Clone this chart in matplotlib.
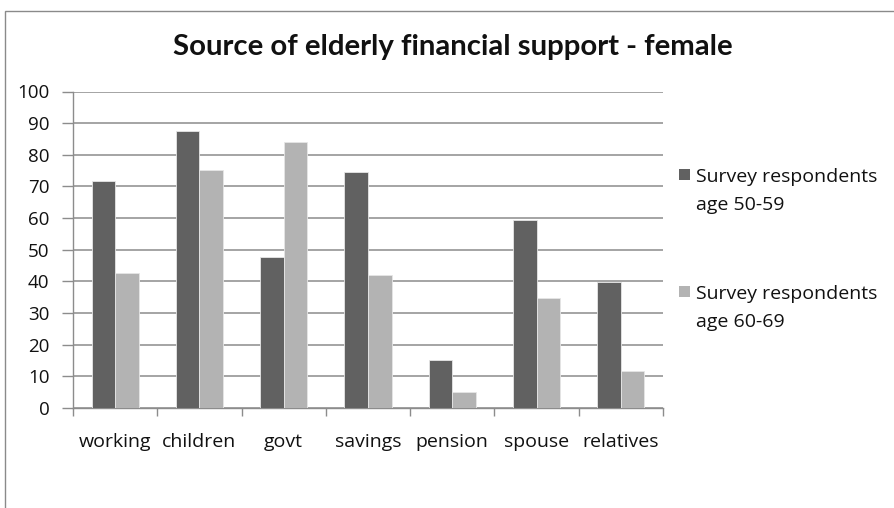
import matplotlib
matplotlib.use("Agg")
import matplotlib.pyplot as plt
from matplotlib.patches import Rectangle
import numpy as np

categories = ["working", "children", "govt", "savings", "pension", "spouse", "relatives"]
age_50_59 = [71.7, 87.4, 47.8, 74.5, 15.3, 59.3, 39.9]
age_60_69 = [42.6, 75.3, 83.9, 41.9, 5.2, 34.7, 11.6]
series_labels = ["Survey respondents\nage 50-59", "Survey respondents\nage 60-69"]
series_colors = ["#616161", "#b3b3b3"]
y_ticks = list(range(0, 101, 10))
title = "Source of elderly financial support - female"

W, H = 895, 508
plt.rcParams["font.family"] = ["Open Sans", "DejaVu Sans"]
fig = plt.figure(figsize=(W / 100, H / 100), dpi=100)
fig.patch.set_facecolor("white")

# chart frame
fig.patches.append(Rectangle((5 / W, -0.01), 1.0, (H - 11) / H + 0.01,
                             transform=fig.transFigure, fill=False,
                             edgecolor="#8a8a8a", linewidth=1.0))

left, right, top, bottom = 73, 663, 91.5, 408
ax = fig.add_axes([left / W, (H - bottom) / H, (right - left) / W, (bottom - top) / H])

x = np.arange(len(categories))
bw = 0.28
for vals, col, off in [(age_50_59, series_colors[0], -bw / 2), (age_60_69, series_colors[1], bw / 2)]:
    ax.bar(x + off, vals, width=bw, color=col, edgecolor="#e6e6e6", linewidth=0.6, zorder=3)

ax.set_xlim(-0.5, len(categories) - 0.5)
ax.set_ylim(0, 100)
ax.set_yticks(y_ticks)
ax.set_yticklabels([str(t) for t in y_ticks], fontsize=13.5, color="#111111")
ax.yaxis.grid(True, color="#8c8c8c", linewidth=1.1, zorder=0)
ax.set_axisbelow(True)

ax.set_xticks(x)
ax.set_xticklabels(categories, fontsize=14, color="#111111")
ax.set_xticks(np.arange(len(categories) + 1) - 0.5, minor=True)
ax.tick_params(axis="x", which="major", length=0, pad=18)
ax.tick_params(axis="x", which="minor", length=6, color="#8c8c8c", width=1.0)
ax.tick_params(axis="y", length=8, color="#8c8c8c", width=1.0, pad=9)

for s in ["top", "right"]:
    ax.spines[s].set_visible(False)
for s in ["left", "bottom"]:
    ax.spines[s].set_color("#8c8c8c")
    ax.spines[s].set_linewidth(1.0)

fig.text(453 / W, 1 - 47 / H, title, ha="center", va="center",
         fontsize=21.2, fontweight="bold", color="#111111",
         family=["Lato", "DejaVu Sans"])

# legend
for i, (lab, col) in enumerate(zip(series_labels, series_colors)):
    ytop = 169 + i * 117
    fig.patches.append(Rectangle((679 / W, 1 - (ytop + 11) / H), 11 / W, 11 / H,
                                 transform=fig.transFigure, facecolor=col,
                                 edgecolor="none"))
    fig.text(696 / W, 1 - (ytop - 1) / H, lab, ha="left", va="top",
             fontsize=14, color="#111111", linespacing=1.68)

fig.savefig("out.png", dpi=100, facecolor="white")
